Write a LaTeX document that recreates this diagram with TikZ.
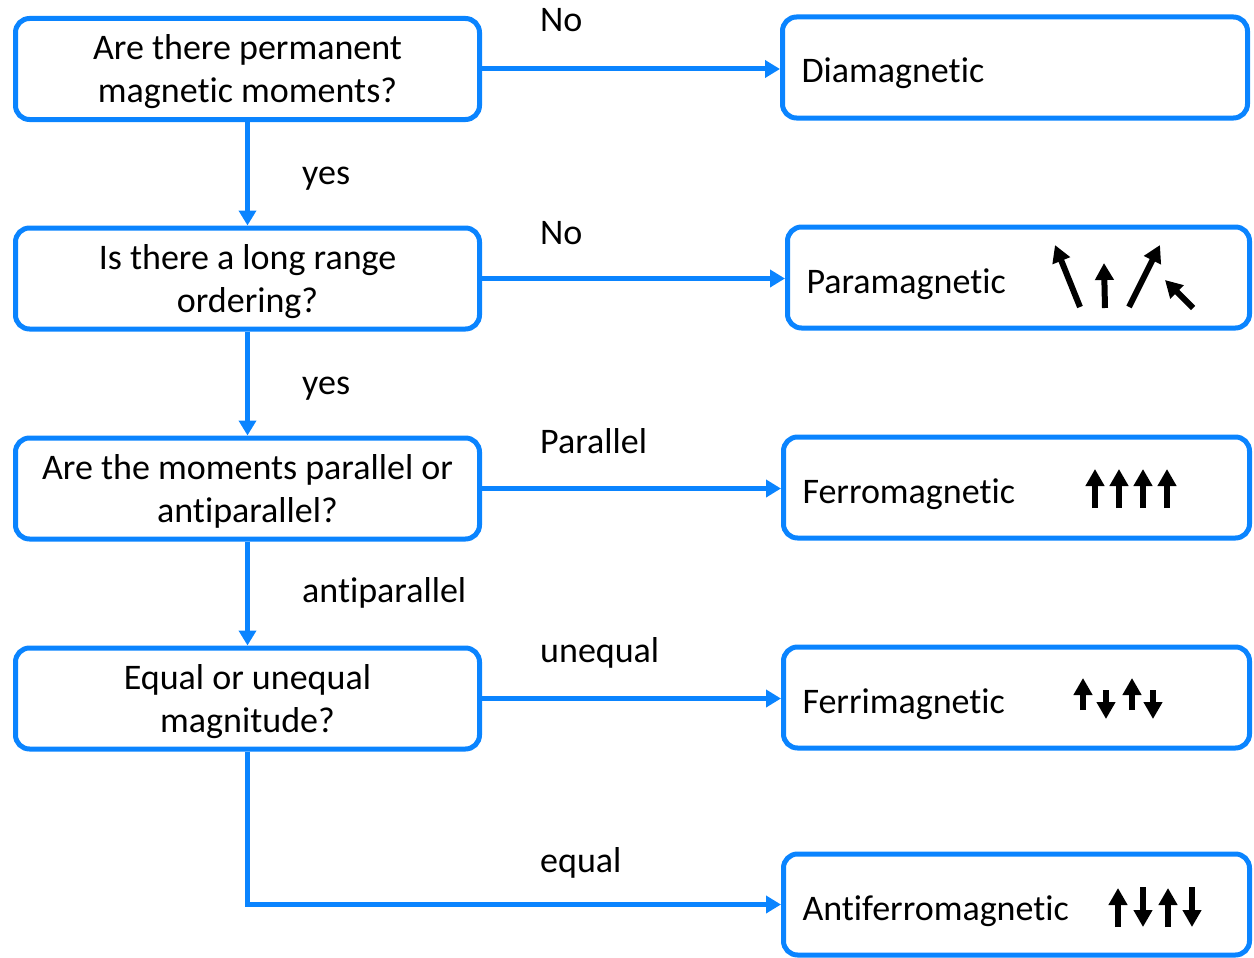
\documentclass[tikz,border=0pt]{standalone}
\usepackage{fontspec}
\setmainfont{Carlito}[RawFeature={-liga;-clig;-dlig;-calt}]
\usetikzlibrary{arrows.meta}
\definecolor{flowblue}{RGB}{10,132,255}
\begin{document}
\begin{tikzpicture}[x=1pt,y=-1pt,
  txt/.style={font=\fontsize{36}{43}\selectfont},
  qbox/.style={txt, draw=flowblue, line width=5pt, rounded corners=14pt,
    minimum width=464pt, minimum height=101pt, align=center, inner sep=0pt,
    text depth=0pt},
  rbox/.style={txt, draw=flowblue, line width=5pt, rounded corners=14pt,
    minimum height=101pt, inner xsep=19pt, inner ysep=0pt, align=left,
    text height=31pt, text depth=0pt},
  link/.style={draw=flowblue, line width=5pt, -{Triangle[width=17pt,length=15pt]}},
  lbl/.style={txt, anchor=base west, inner sep=0pt},
  spin/.style={line width=6pt, -{Triangle[width=18pt,length=17pt]}}]
\useasboundingbox (0,0) rectangle (1254,958);

% question boxes
\node[qbox] (q1) at (247.5,69) {Are there permanent\\magnetic moments?};
\node[qbox] (q2) at (247.5,278.5) {Is there a long range\\ordering?};
\node[qbox] (q3) at (247.5,488.5) {Are the moments parallel or\\antiparallel?};
\node[qbox] (q4) at (247.5,698.5) {Equal or unequal\\magnitude?};

% result boxes
\node[rbox, text width=427pt] (dia) at (1015,67.5) {Diamagnetic};
\node[rbox, text width=424pt] (para) at (1018.5,277.5) {Paramagnetic};
\node[rbox, text width=428pt] (ferro) at (1016.5,487.5) {Ferromagnetic};
\node[rbox, text width=428pt] (ferri) at (1016.5,697.5) {Ferrimagnetic};
\node[rbox, text width=428pt] (anti) at (1016.5,904.5) {Antiferromagnetic};

% connectors
\draw[link] (q1.east) -- (q1.east -| dia.west);
\draw[link] (q2.east) -- (q2.east -| para.west);
\draw[link] (q3.east) -- (q3.east -| ferro.west);
\draw[link] (q4.east) -- (q4.east -| ferri.west);
\draw[link] (q1.south) -- (q2.north);
\draw[link] (q2.south) -- (q3.north);
\draw[link] (q3.south) -- (q4.north);
\draw[link] (q4.south) |- (anti.west);

% labels
\node[lbl] (l1) at (540,32) {No};
\node[lbl] (l2) at (302,184) {yes};
\node[lbl] (l3) at (540,244) {No};
\node[lbl] (l4) at (302,394) {yes};
\node[lbl] (l5) at (540,453) {Parallel};
\node[lbl] (l6) at (302,602) {antiparallel};
\node[lbl] (l7) at (540,662) {unequal};
\node[lbl] (l8) at (540,872) {equal};

% paramagnetic spins
\draw[spin] (1080,307) -- (1055,245);
\draw[spin] (1105,308) -- (1104,263);
\draw[spin] (1129,307) -- (1160,245);
\draw[spin] (1193,308) -- (1165,280);

% ferromagnetic spins
\foreach \x in {1095,1119,1143,1167} \draw[spin] (\x,508) -- (\x,469);

% ferrimagnetic spins
\foreach \x in {1083,1132} \draw[spin] (\x,710) -- (\x,678);
\foreach \x in {1106,1153} \draw[spin] (\x,690) -- (\x,719);

% antiferromagnetic spins
\foreach \x in {1118,1168} \draw[spin] (\x,927) -- (\x,888);
\foreach \x in {1143,1192} \draw[spin] (\x,887) -- (\x,927);
\end{tikzpicture}
\end{document}
